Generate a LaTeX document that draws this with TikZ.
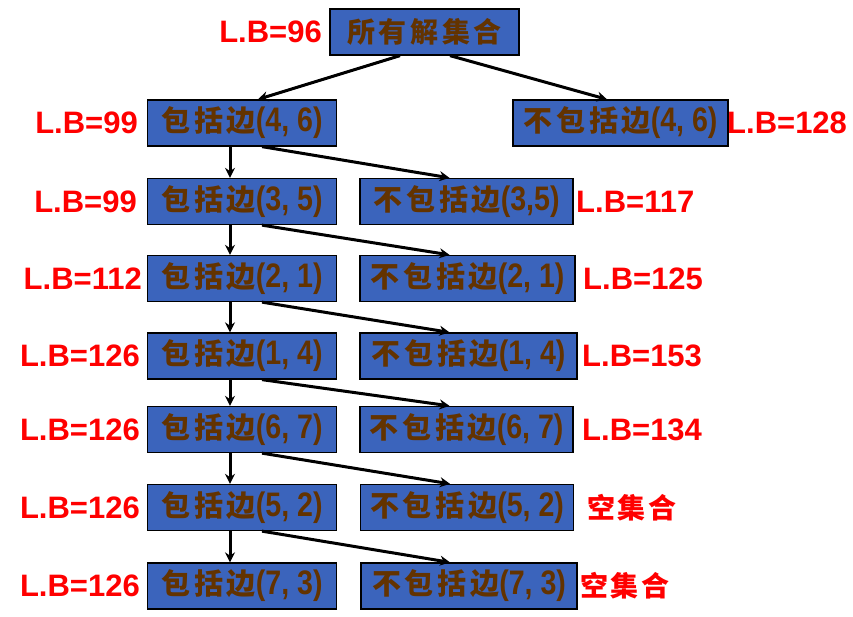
\documentclass[tikz,border=0pt]{standalone}
\usepackage{fontspec}
\setmainfont{Liberation Sans}
\newfontfamily\cjk{Noto Sans CJK SC}[LetterSpace=13]
\newfontfamily\cjkred{Noto Sans CJK SC}[LetterSpace=9]
\newfontfamily\numf{Liberation Sans}[FakeStretch=0.84, UprightFont=* Bold, BoldFont=* Bold]
\usetikzlibrary{arrows.meta}
\definecolor{boxblue}{RGB}{59,100,188}
\definecolor{txtbrown}{RGB}{99,51,0}
\newcommand{\bxt}[2]{{\cjk\bfseries\fontsize{29}{32}\selectfont #1}{\numf\fontsize{34}{36}\selectfont #2}}
\tikzset{
  box/.style={draw=black, line width=1.3pt, fill=boxblue, text=txtbrown, minimum height=46pt, inner sep=0pt},
  lb/.style={text=red, font=\bfseries\fontsize{31}{33}\selectfont, inner sep=0pt},
  emp/.style={text=red, font=\cjkred\bfseries\fontsize{28}{30}\selectfont, inner sep=0pt},
  arr/.style={draw=black, line width=3pt, -{Stealth[length=10pt,width=10pt]}}
}
\begin{document}
\begin{tikzpicture}[x=1pt,y=-1pt]
\useasboundingbox (0,0) rectangle (853,617);
% top
\node[box, minimum width=189pt] (T) at (424.5,32) {{\cjk\bfseries\fontsize{28}{30}\selectfont 所有解集合}};
\node[lb, anchor=east] (tl) at (322,32) {L.B=96};
% left column
\node[box, minimum width=189pt] (L1) at (242,123) {\bxt{包括边}{(4, 6)}};
\node[box, minimum width=189pt] (L2) at (242,201.5) {\bxt{包括边}{(3, 5)}};
\node[box, minimum width=189pt] (L3) at (242,278.5) {\bxt{包括边}{(2, 1)}};
\node[box, minimum width=189pt] (L4) at (242,356) {\bxt{包括边}{(1, 4)}};
\node[box, minimum width=189pt] (L5) at (242,429.5) {\bxt{包括边}{(6, 7)}};
\node[box, minimum width=189pt] (L6) at (242,507.5) {\bxt{包括边}{(5, 2)}};
\node[box, minimum width=189pt] (L7) at (242,586) {\bxt{包括边}{(7, 3)}};
% right column
\node[box, minimum width=215pt] (R1) at (620.5,123) {\bxt{不包括边}{(4, 6)}};
\node[box, minimum width=213pt] (R2) at (466.5,201.5) {\bxt{不包括边}{(3,5)}};
\node[box, minimum width=215pt] (R3) at (467.5,278.5) {\bxt{不包括边}{(2, 1)}};
\node[box, minimum width=217pt] (R4) at (468.5,356) {\bxt{不包括边}{(1, 4)}};
\node[box, minimum width=213pt] (R5) at (466.5,429.5) {\bxt{不包括边}{(6, 7)}};
\node[box, minimum width=213pt] (R6) at (467,507.5) {\bxt{不包括边}{(5, 2)}};
\node[box, minimum width=216pt] (R7) at (469,586) {\bxt{不包括边}{(7, 3)}};
% left labels
\node[lb, anchor=east] (l1) at (138,123) {L.B=99};
\node[lb, anchor=east] (l2) at (137,201.5) {L.B=99};
\node[lb, anchor=east] (l3) at (142,278.5) {L.B=112};
\node[lb, anchor=east] (l4) at (140,356) {L.B=126};
\node[lb, anchor=east] (l5) at (140,429.5) {L.B=126};
\node[lb, anchor=east] (l6) at (140,507.5) {L.B=126};
\node[lb, anchor=east] (l7) at (140,586) {L.B=126};
% right labels
\node[lb, anchor=west] (r1) at (727,123) {L.B=128};
\node[lb, anchor=west] (r2) at (576,201.5) {L.B=117};
\node[lb, anchor=west] (r3) at (583,278.5) {L.B=125};
\node[lb, anchor=west] (r4) at (582,356) {L.B=153};
\node[lb, anchor=west] (r5) at (582,429.5) {L.B=134};
\node[emp, anchor=west] (r6) at (587,507.5) {空集合};
\node[emp, anchor=west] (r7) at (580,586) {空集合};
% arrows from top
\draw[arr] ([xshift=-24.5pt]T.south) -- ([xshift=16pt]L1.north);
\draw[arr] ([xshift=25.5pt]T.south) -- ([xshift=-13.5pt]R1.north);
% vertical arrows
\foreach \a/\b in {L1/L2,L2/L3,L3/L4,L4/L5,L5/L6,L6/L7}
  \draw[arr] ([xshift=-12pt]\a.south) -- ([xshift=-12pt]\b.north);
% diagonal arrows
\draw[arr] ([xshift=20pt]L1.south) -- ([xshift=-17pt]R2.north);
\draw[arr] ([xshift=20pt]L2.south) -- ([xshift=-18pt]R3.north);
\draw[arr] ([xshift=20pt]L3.south) -- ([xshift=-19pt]R4.north);
\draw[arr] ([xshift=20pt]L4.south) -- ([xshift=-17pt]R5.north);
\draw[arr] ([xshift=20pt]L5.south) -- ([xshift=-17pt]R6.north);
\draw[arr] ([xshift=20pt]L6.south) -- ([xshift=-19pt]R7.north);
\end{tikzpicture}
\end{document}
